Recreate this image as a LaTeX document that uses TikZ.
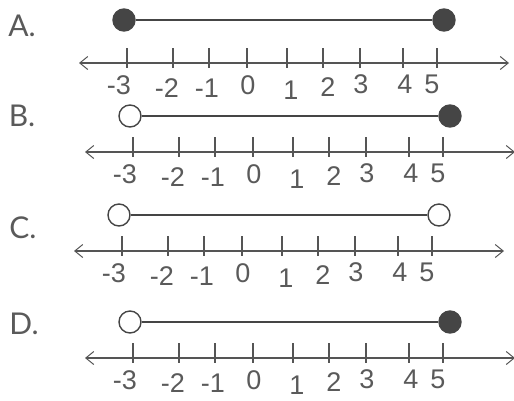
\documentclass[tikz,border=0pt]{standalone}
\usepackage{fontspec}
\newfontfamily\numfont{Liberation Sans}
\newfontfamily\letfont{Lato}
\usetikzlibrary{arrows.meta}
\definecolor{ink}{HTML}{454545}
\definecolor{axisgray}{HTML}{555555}
\definecolor{textgray}{HTML}{5A5A5A}

\begin{document}
\begin{tikzpicture}[x=1pt, y=-1pt,
  dot/.style={circle, inner sep=0pt, minimum size=22pt, line width=1.4pt, draw=ink},
  filldot/.style={fill=ink},
  opendot/.style={fill=white},
  seg/.style={line width=1.5pt, draw=ink},
  axis/.style={line width=1.8pt, draw=axisgray,
    {Straight Barb[length=8pt, width=13pt, line width=1pt]}-{Straight Barb[length=8pt, width=13pt, line width=1pt]}},
  tick/.style={line width=1.6pt, draw=axisgray},
  num/.style={inner sep=0pt, text=textgray, font=\numfont\fontsize{27}{27}\selectfont},
  letter/.style={inner sep=0pt, text=textgray, font=\letfont\fontsize{30}{30}\selectfont}
]
\useasboundingbox (0,0) rectangle (514,400);

\foreach \p/\lx/\ly/\xo/\ay/\by/\ls/\rs in {
    A/22/26/127/63/20/filldot/filldot,
    B/22/116/133/152/116/opendot/filldot,
    C/23/228/122/251/215/opendot/opendot,
    D/24/324/133/358/322/opendot/filldot} {
  \node[letter] (lab-\p) at (\lx,\ly) {\p.};
  \coordinate (axl-\p) at ({\xo-48},\ay);
  \coordinate (axr-\p) at ({\xo+382},\ay);
  \draw[axis] (axl-\p) -- (axr-\p);
  \foreach \t/\ox/\oy/\n in {0/-8/22/-3, 46/-6/25/-2, 82/-2/25/-1, 120/1/22/0,
      160/4/27/1, 196/5/24/2, 233/1/21/3, 276/2/21/4, 310/-5/21/5} {
    \draw[tick] ({\xo+\t},{\ay-15}) -- ++(0,20);
    \node[num] (n\n-\p) at ({\xo+\t+\ox},{\ay+\oy}) {\n};
  }
  \node[dot, \ls] (lo-\p) at ({\xo-3},\by) {};
  \node[dot, \rs] (hi-\p) at ({\xo+317},\by) {};
  \draw[seg] (lo-\p) -- (hi-\p);
}
\end{tikzpicture}
\end{document}
